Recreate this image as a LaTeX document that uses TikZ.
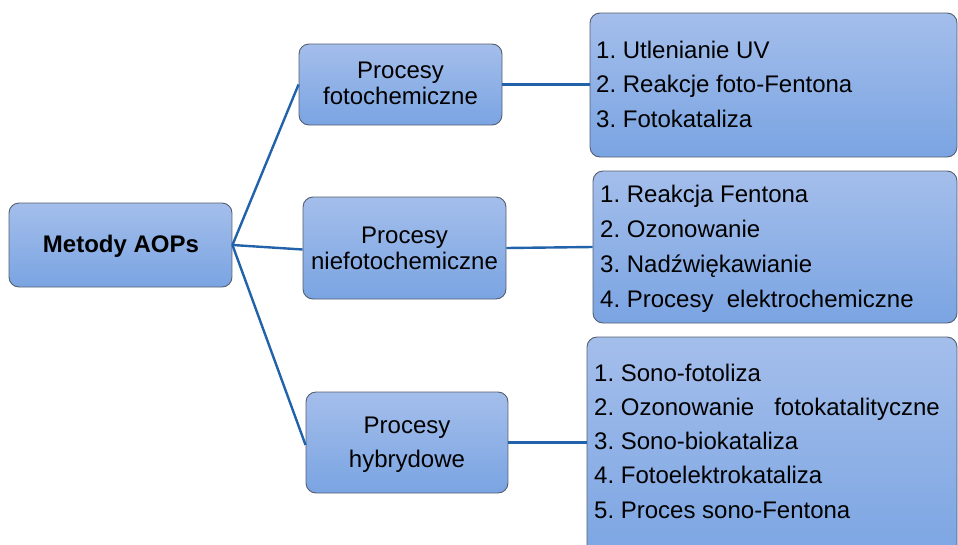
\documentclass[tikz,border=0pt]{standalone}
\usepackage{fontspec}
\setmainfont{Liberation Sans}
\usetikzlibrary{calc}
\definecolor{boxtop}{RGB}{164,190,235}
\definecolor{boxbot}{RGB}{122,164,226}
\definecolor{boxline}{RGB}{84,94,112}
\definecolor{linkblue}{RGB}{33,98,170}
\frenchspacing

\begin{document}
\begin{tikzpicture}[x=1pt,y=-1pt,
  box/.style={draw=boxline, line width=0.9pt, rounded corners=10pt,
    top color=boxtop, bottom color=boxbot, inner sep=0pt},
  link/.style={draw=linkblue, line width=2.4pt},
  txt/.style={font=\fontsize{24}{28}\selectfont, inner sep=0pt},
  label/.style={txt, anchor=base},
  item/.style={txt, anchor=base west}]

\useasboundingbox (0,0) rectangle (958,544);
\clip (0,0) rectangle (958,544);

% root
\node[box, minimum width=223pt, minimum height=84pt] (main) at (120.5,245) {};
\node[txt, font=\fontsize{24}{28}\selectfont\bfseries, anchor=base] (maint) at (121,252) {Metody AOPs};

% process groups
\node[box, minimum width=203pt, minimum height=81pt] (p1) at (400.5,84.5) {};
\node[label] (p1a) at (400.5,78) {Procesy};
\node[label] (p1b) at (400.5,104) {fotochemiczne};

\node[box, minimum width=203pt, minimum height=102pt] (p2) at (404.5,248) {};
\node[label] (p2a) at (404.5,243) {Procesy};
\node[label] (p2b) at (404.5,269) {niefotochemiczne};

\node[box, minimum width=202pt, minimum height=101pt] (p3) at (407,442.5) {};
\node[label] (p3a) at (407,433) {Procesy};
\node[label] (p3b) at (407,467) {hybrydowe};

% method lists
\node[box, minimum width=367pt, minimum height=144pt] (r1) at (773.5,85) {};
\node[box, minimum width=364pt, minimum height=152pt] (r2) at (775,247) {};
\node[box, minimum width=370pt, minimum height=230pt] (r3) at (772,452) {};

\foreach \t [count=\i] in {1. Utlenianie UV, 2. Reakcje foto-Fentona, 3. Fotokataliza}
  \node[item] (r1i\i) at (596, 58+34.5*\i-34.5) {\t};

\foreach \t [count=\i] in {1. Reakcja Fentona, 2. Ozonowanie, 3. Nadźwiękawianie, 4. Procesy~ elektrochemiczne}
  \node[item] (r2i\i) at (600, 202+35*\i-35) {\t};

\foreach \t [count=\i] in {1. Sono-fotoliza, 2. Ozonowanie~~ fotokatalityczne, 3. Sono-biokataliza, 4. Fotoelektrokataliza, 5. Proces sono-Fentona}
  \node[item] (r3i\i) at (594, 381+34.25*\i-34.25) {\t};

% connectors
\draw[link] (main.east) -- (p1.west);
\draw[link] (main.east) -- ([yshift=-1.5pt]p2.west);
\draw[link] (main.east) -- ([yshift=-2.5pt]p3.west);
\draw[link] (p1.east) -- (p1.east -| r1.west);
\draw[link] (p2.east) -- (r2.west);
\draw[link] (p3.east) -- (p3.east -| r3.west);
\end{tikzpicture}
\end{document}
